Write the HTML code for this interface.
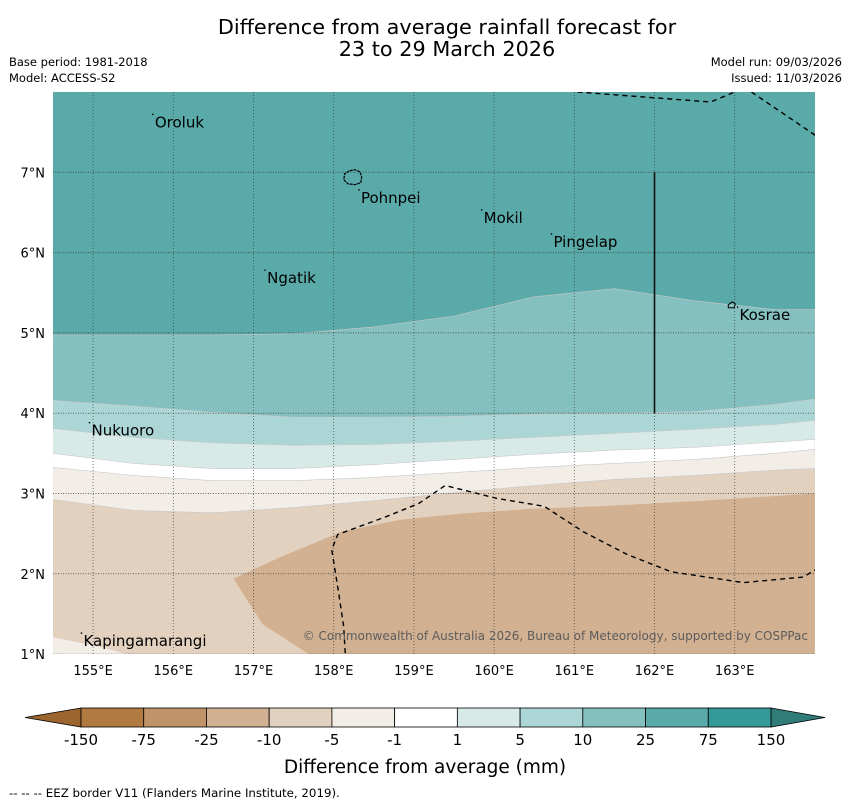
<!DOCTYPE html>
<html><head><meta charset="utf-8">
<style>
body{margin:0;background:#fff;width:850px;height:804px;overflow:hidden;font-family:"DejaVu Sans","Liberation Sans",sans-serif;}
svg{display:block}
</style></head>
<body>
<svg id="chart" width="850" height="804" viewBox="0 0 850 804" xmlns="http://www.w3.org/2000/svg" font-family="DejaVu Sans, Liberation Sans, sans-serif">
<text x="447" y="34" font-size="20.8" text-anchor="middle">Difference from average rainfall forecast for</text>
<text x="447" y="56" font-size="20.8" text-anchor="middle">23 to 29 March 2026</text>
<text x="9" y="66" font-size="11.5">Base period: 1981-2018</text>
<text x="9" y="82" font-size="11.5">Model: ACCESS-S2</text>
<text x="842" y="66" font-size="11.5" text-anchor="end">Model run: 09/03/2026</text>
<text x="842" y="82" font-size="11.5" text-anchor="end">Issued: 11/03/2026</text>
<defs><clipPath id="mapclip"><rect x="53" y="92" width="762" height="562"/></clipPath></defs>
<g id="map" clip-path="url(#mapclip)"></g>
<g id="axes"></g>
<g id="cbar"></g>
<text x="425" y="773" font-size="18.5" text-anchor="middle">Difference from average (mm)</text>
<text x="9" y="797" font-size="11.8">--  --  -- EEZ border V11 (Flanders Marine Institute, 2019).</text>
</svg>
<script>
// ---- data ----
const lonGrid = [154.5,155.5,156.5,157.5,158.5,159.5,160.5,161.5,162.5,163.5,164.0];
const bound25 = [4.975,4.975,4.975,4.99,5.075,5.21,5.45,5.55,5.4,5.29,5.29];
const bound10 = [4.16,4.09,4.01,3.95,3.95,3.96,3.99,4.0,4.02,4.11,4.175];
const bound5  = [3.81,3.70,3.63,3.6,3.61,3.65,3.7,3.75,3.8,3.86,3.91];
const bound1  = [3.5,3.375,3.31,3.31,3.36,3.425,3.49,3.54,3.575,3.64,3.675];
const boundM1 = [3.325,3.225,3.16,3.16,3.2,3.26,3.325,3.375,3.425,3.5,3.55];
const boundM5 = [2.925,2.79,2.76,2.825,2.91,3.01,3.1,3.175,3.225,3.29,3.31];
const regionM10Lon = [156.75,157.34,158.1,158.84,159.59,160.46,161.34,162.59,164.0,164.0,157.84,157.11];
const regionM10Lat = [1.94,2.21,2.525,2.675,2.75,2.81,2.84,2.91,3.0,0.9,0.9,1.375];
const cornerLon = [154.5,155.09,155.77,154.5];
const cornerLat = [1.21,1.09,0.9,0.9];
const eezSouthLon = [158.15,158.125,158.06,158.0,157.975,158.05,158.65,159.06,159.39,160.03,160.625,161.11,161.66,162.21,163.11,163.86,164.0];
const eezSouthLat = [0.9,1.34,1.775,2.15,2.3,2.49,2.71,2.875,3.1,2.94,2.84,2.525,2.24,2.025,1.89,1.96,2.05];
const eezNorthLon = [161.04,162.7,163.0];
const eezNorthLat = [8.0,7.875,8.0];
const eezNELon = [163.21,164.05];
const eezNELat = [8.0,7.43];
const places = ["Oroluk","Pohnpei","Ngatik","Mokil","Pingelap","Kosrae","Nukuoro","Kapingamarangi"];
const placeLon = [155.77,158.34,157.17,159.87,160.74,163.06,154.98,154.88];
const placeLat = [7.56,6.62,5.62,6.37,6.07,5.16,3.72,1.1];
const lonTicks = [155,156,157,158,159,160,161,162,163];
const latTicks = [1,2,3,4,5,6,7];
const cbLevels = ["-150","-75","-25","-10","-5","-1","1","5","10","25","75","150"];
const cbColors = ["#b07a40","#c09468","#d2b192","#e3d1bf","#f2ede6","#ffffff","#d8eae8","#acd6d5","#84c0bf","#5aaaaa","#339a97"];

// ---- axes ----
const x = lon => 53 + (lon-154.5)*80.2;
const y = lat => 92 + (8-lat)*80.3;
const NS = "http://www.w3.org/2000/svg";
function mk(tag, attrs, parent){const e=document.createElementNS(NS,tag);for(const k in attrs)e.setAttribute(k,attrs[k]);parent.appendChild(e);return e;}
const map = document.getElementById('map');
const axes = document.getElementById('axes');
const cbar = document.getElementById('cbar');

let bg = mk('rect',{x:53,y:92,width:762,height:562,fill:'#5aaaaa'},map);



function bandBelow(arr, color, name){
  let d = 'M'+lonGrid.map((l,i)=>x(l).toFixed(1)+','+y(arr[i]).toFixed(1)).join(' L');
  d += ` L${x(164.1)},${y(0.8)} L${x(154.4)},${y(0.8)} Z`;
  const p = mk('path',{d:d,fill:color,stroke:'#c8c8c8','stroke-width':0.6},map);
  
  
}
bandBelow(bound25,'#84c0bf','region-10-to-25');
bandBelow(bound10,'#acd6d5','region-5-to-10');
bandBelow(bound5,'#d8eae8','region-1-to-5');
bandBelow(bound1,'#ffffff','region-minus1-to-1');
bandBelow(boundM1,'#f2ede6','region-minus5-to-minus1');
bandBelow(boundM5,'#e3d1bf','region-minus10-to-minus5');
function poly(lons,lats,fill,name){
  const p = mk('path',{d:'M'+lons.map((l,i)=>x(l).toFixed(1)+','+y(lats[i]).toFixed(1)).join(' L')+' Z',fill:fill},map);
  
  
}
poly(regionM10Lon,regionM10Lat,'#d2b192','region-minus25-to-minus10');
poly(cornerLon,cornerLat,'#f2ede6','region-corner-minus5-to-minus1');

// gridlines
lonTicks.forEach(l=>{
  const g = mk('line',{x1:x(l),x2:x(l),y1:92,y2:654,stroke:'#333','stroke-width':0.8,'stroke-dasharray':'1,2',opacity:0.8},map);
  
  
});
latTicks.forEach(l=>{
  const g = mk('line',{x1:53,x2:815,y1:y(l),y2:y(l),stroke:'#333','stroke-width':1,'stroke-dasharray':'1,1.5',opacity:0.7},map);
  
  
});

// vertical solid line
let vl = mk('line',{x1:x(162),x2:x(162),y1:y(7),y2:y(4),stroke:'#111','stroke-width':1.6},map);



// EEZ
function dashed(lons,lats,name){
  const p = mk('path',{d:'M'+lons.map((l,i)=>x(l).toFixed(1)+','+y(lats[i]).toFixed(1)).join(' L'),fill:'none',stroke:'#000','stroke-width':1.4,'stroke-dasharray':'5,4'},map);
  
  
}
dashed(eezSouthLon,eezSouthLat,'eez-border-south');
dashed(eezNorthLon,eezNorthLat,'eez-border-north');
dashed(eezNELon,eezNELat,'eez-border-northeast');

// islands
let ph = mk('path',{d:`M${x(158.2)},${y(7.02)} l5,-1 l5,2 l2,5 l-1,6 l-6,2 l-7,-1 l-4,-4 l1,-6 Z`,fill:'none',stroke:'#000','stroke-width':1.2,'stroke-dasharray':'3,0.8'},map);


let ks = mk('path',{d:`M${x(162.92)},${y(5.35)} l4,-3 l3,2 l-1,4 l-6,0 Z`,fill:'none',stroke:'#000','stroke-width':1},map);



places.forEach((n,i)=>{
  const t = mk('text',{x:x(placeLon[i]),y:y(placeLat[i]),'font-size':15,fill:'#000'},map);
  t.textContent = n;
  
  
  const d = mk('circle',{cx:x(placeLon[i])-2,cy:y(placeLat[i])-13,r:0.8,fill:'#000'},map);
  
  
});

let cp = mk('text',{x:808,y:640,'font-size':12,fill:'#5c5c5c','text-anchor':'end'},map);
cp.textContent = '© Commonwealth of Australia 2026, Bureau of Meteorology, supported by COSPPac';



// tick labels
lonTicks.forEach(l=>{
  const t = mk('text',{x:x(l),y:675,'font-size':13,'text-anchor':'middle'},axes);
  t.textContent = l+'°E';
  
  
});
latTicks.forEach(l=>{
  const t = mk('text',{x:45,y:y(l)+5,'font-size':13,'text-anchor':'end'},axes);
  t.textContent = l+'°N';
  
  
});

// colorbar
const cbX0 = 81, cbX1 = 771, cbY0 = 708, cbY1 = 727;
const segW = (cbX1-cbX0)/cbColors.length;
let lt = mk('path',{d:`M${cbX0},${cbY0} L25,${(cbY0+cbY1)/2} L${cbX0},${cbY1} Z`,fill:'#9c642e',stroke:'#000','stroke-width':0.8},cbar);


let rt = mk('path',{d:`M${cbX1},${cbY0} L825,${(cbY0+cbY1)/2} L${cbX1},${cbY1} Z`,fill:'#2f7c78',stroke:'#000','stroke-width':0.8},cbar);


cbColors.forEach((c,i)=>{
  const r = mk('rect',{x:cbX0+i*segW,y:cbY0,width:segW,height:cbY1-cbY0,fill:c,stroke:'#000','stroke-width':0.8},cbar);
  
  
});
cbLevels.forEach((lab,i)=>{
  const t = mk('text',{x:cbX0+i*segW,y:745,'font-size':15,'text-anchor':'middle'},cbar);
  t.textContent = lab;
  
  
});
</script>
</body></html>
